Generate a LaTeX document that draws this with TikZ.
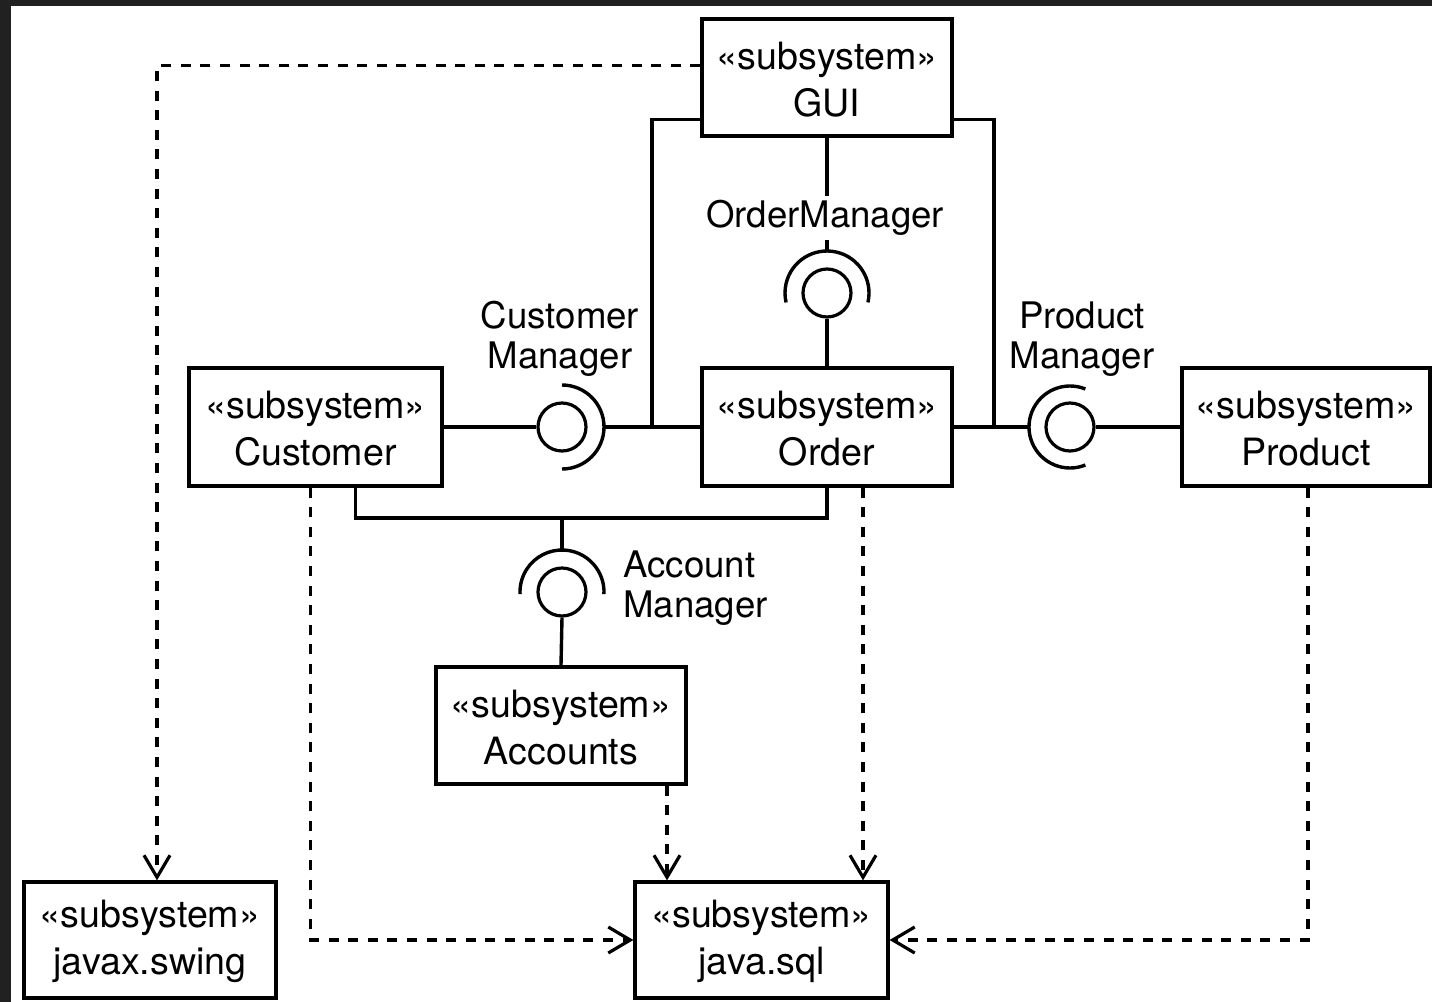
\documentclass[tikz,border=0pt]{standalone}
\usepackage{fontspec}
\setmainfont{TeX Gyre Heros}
\usetikzlibrary{arrows.meta}
\begin{document}
\begin{tikzpicture}[x=0.5pt,y=-0.5pt,
  box/.style={draw,line width=1.6pt,fill=white,align=center,inner sep=0pt,
    font=\fontsize{18.8}{23.5}\selectfont},
  lbl/.style={align=center,inner sep=1pt,font=\fontsize{18.3}{20}\selectfont},
  ball/.style={circle,draw,line width=1.6pt,minimum size=24pt,inner sep=0pt},
  conn/.style={line width=1.7pt},
  socket/.style={line width=1.7pt},
  dep/.style={line width=1.7pt,dash pattern=on 5pt off 4.8pt,
    -{Straight Barb[length=11pt,width=13pt,line width=1.6pt]}}]
\useasboundingbox (0,0) rectangle (1432,1002);
\fill[black!87] (0,0) rectangle (1432,1002);
\fill[white] (11,6) rectangle (1432,1002);

% boxes
\node[box,minimum width=125pt,minimum height=58.5pt] (GUI) at (827,77.5) {\rule{0pt}{15.5pt}«subsystem»\\GUI};
\node[box,minimum width=126.5pt,minimum height=59pt] (Customer) at (315.5,427) {\rule{0pt}{15.5pt}«subsystem»\\Customer};
\node[box,minimum width=125pt,minimum height=59pt] (Order) at (827,427) {\rule{0pt}{15.5pt}«subsystem»\\Order};
\node[box,minimum width=124pt,minimum height=59pt] (Product) at (1306,427) {\rule{0pt}{15.5pt}«subsystem»\\Product};
\node[box,minimum width=125pt,minimum height=58.5pt] (Accounts) at (561,725.5) {\rule{0pt}{15.5pt}«subsystem»\\Accounts};
\node[box,minimum width=126pt,minimum height=58pt] (Swing) at (150,940) {\rule{0pt}{15.5pt}«subsystem»\\javax.swing};
\node[box,minimum width=126.5pt,minimum height=58pt] (Sql) at (761.5,940) {\rule{0pt}{15.5pt}«subsystem»\\java.sql};

% interface centres
\coordinate (omC) at (827,293);
\coordinate (cmC) at (562,427);
\coordinate (pmC) at (1070,427);
\coordinate (amC) at (562,592);
\coordinate (jL) at (652,427);
\coordinate (jR) at (994,427);
\coordinate (jB) at (562,518);

% balls
\node[ball] (omBall) at (omC) {};
\node[ball] (cmBall) at (cmC) {};
\node[ball] (pmBall) at (pmC) {};
\node[ball] (amBall) at (amC) {};

% sockets
\draw[socket] ([shift={(-13:21pt)}]omC) arc[start angle=-13,end angle=193,radius=21pt];
\draw[socket] ([shift={(90:21pt)}]cmC) arc[start angle=90,end angle=-90,radius=21pt];
\draw[socket] ([shift={(68:20.5pt)}]pmC) arc[start angle=68,end angle=292,radius=20.5pt];
\draw[socket] ([shift={(-3:21pt)}]amC) arc[start angle=-3,end angle=183,radius=21pt];
\coordinate (omS) at ([yshift=21pt]omC);
\coordinate (cmS) at ([xshift=21pt]cmC);
\coordinate (pmS) at ([xshift=-20pt]pmC);
\coordinate (amS) at ([yshift=21pt]amC);

% assembly connectors
\draw[conn] (Customer.east) -- (cmBall.west);
\draw[conn] (cmS) -- (Order.west);
\draw[conn] (Order.east) -- (pmS);
\draw[conn] (pmBall.east) -- (Product.west);
\draw[conn] ([yshift=-21pt]GUI.west) -| (jL);
\draw[conn] ([yshift=-21pt]GUI.east) -| (jR);
\draw[conn] (GUI.south) -- (omS);
\draw[conn] (omBall.south) -- (Order.north);
\draw[conn] ([xshift=20pt]Customer.south) |- (jB) -| (Order.south);
\draw[conn] (jB) -- (amS);
\draw[conn] (amBall.south) -- (Accounts.north);

% dependencies
\draw[dep] ([yshift=6pt]GUI.west) -| ([xshift=3.5pt]Swing.north);
\draw[dep] ([xshift=-2.5pt]Customer.south) |- (Sql.west);
\draw[dep] ([xshift=53pt]Accounts.south) -- ([xshift=53pt]Accounts.south |- Sql.north);
\draw[dep] ([xshift=18pt]Order.south) -- ([xshift=18pt]Order.south |- Sql.north);
\draw[dep] ([xshift=1pt]Product.south) |- (Sql.east);

% labels
\node[lbl,fill=white,inner sep=2pt] (omL) at (825,218) {OrderManager};
\node[lbl] (cmL) at (560,339) {Customer\\Manager};
\node[lbl] (pmL) at (1082,339) {Product\\Manager};
\node[lbl,align=left,anchor=west] (amL) at (621,588) {Account\\Manager};
\end{tikzpicture}
\end{document}
